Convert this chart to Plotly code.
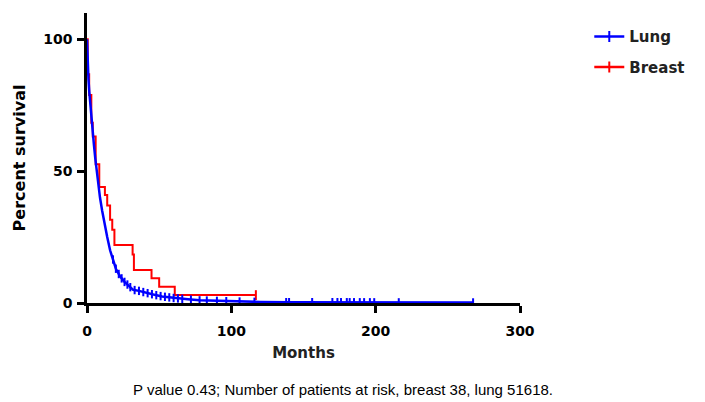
import numpy as np
import plotly.graph_objects as go

# Lung (blue) Kaplan-Meier curve
lung_t = [0, 0.5, 1, 1.6, 2.3, 3.2, 4, 4.8, 5.7, 6.7, 7.8, 9, 10.5, 12, 14, 16, 18, 20, 23, 26, 29, 32,
          36, 40, 46, 52, 60, 70, 78, 90, 101, 120, 140, 170, 200, 240, 268]
lung_s = [100, 90, 85, 80, 75, 70, 65, 60, 55, 50, 45, 40, 35, 30, 25, 20, 16.5, 13, 10, 8, 6.5, 5,
          4.6, 4.0, 3.2, 2.5, 1.9, 1.4, 1.0, 0.8, 0.6, 0.4, 0.3, 0.3, 0.25, 0.2, 0.2]
lung_censor = [18, 20, 22, 24, 26, 28, 30, 33, 36, 39, 42, 45, 48, 51, 54, 57, 60, 63, 66, 72, 78,
               83, 90, 96.5, 105.7, 116, 138, 140, 156, 170, 173.5, 176, 180, 182, 185, 189, 192,
               196, 199, 216, 267.5]

# Breast (red) Kaplan-Meier curve
breast_t = [0, 0.5, 1.5, 3, 4, 6, 8.5, 12.4, 14, 16, 17.5, 19, 31.6, 32.5, 44.7, 50, 60.8, 117]
breast_s = [100, 86.8, 78.9, 68.4, 63.2, 52.6, 44.0, 41.0, 37.0, 31.6, 27.8, 22.0, 18.4, 12.5,
            9.4, 6.2, 3.0, 3.0]
breast_censor = [117]

x_ticks = [0, 100, 200, 300]
y_ticks = [0, 50, 100]

BLUE = "#0000FF"
RED = "#FF0000"
TICKFONT = dict(family="DejaVu Sans", size=14, color="black", weight="bold")


def curve_value(ts, ss, t):
    return float(np.interp(t, ts, ss))


def step_value(ts, ss, t):
    i = np.searchsorted(np.asarray(ts), t, side="right") - 1
    return ss[max(i, 0)]


fig = go.Figure()

# Breast curve (drawn first, under lung)
fig.add_trace(go.Scatter(x=breast_t, y=breast_s, mode="lines", line=dict(color=RED, width=2, shape="hv"),
                         showlegend=False, hoverinfo="skip"))
fig.add_trace(go.Scatter(x=breast_censor, y=[step_value(breast_t, breast_s, t) for t in breast_censor],
                         mode="markers", marker=dict(symbol="line-ns", size=7, line=dict(color=RED, width=2)),
                         showlegend=False, hoverinfo="skip"))
# Lung curve
fig.add_trace(go.Scatter(x=lung_t, y=lung_s, mode="lines", line=dict(color=BLUE, width=2.5, shape="linear"),
                         showlegend=False, hoverinfo="skip"))
fig.add_trace(go.Scatter(x=lung_censor, y=[curve_value(lung_t, lung_s, t) for t in lung_censor],
                         mode="markers", marker=dict(symbol="line-ns", size=6, line=dict(color=BLUE, width=2)),
                         showlegend=False, hoverinfo="skip"))

# Legend entries
fig.add_trace(go.Scatter(x=[None], y=[None], mode="lines+markers", name="Lung", legendgroup="g_lung",
                         line=dict(color=BLUE, width=2.5),
                         marker=dict(symbol="line-ns", size=8, line=dict(color=BLUE, width=2))))
fig.add_trace(go.Scatter(x=[None], y=[None], mode="lines+markers", name="Breast", legendgroup="g_breast",
                         line=dict(color=RED, width=2.5),
                         marker=dict(symbol="line-ns", size=8, line=dict(color=RED, width=2))))

fig.update_layout(
    width=705, height=402,
    margin=dict(l=87, r=185, t=13, b=99),
    paper_bgcolor="white", plot_bgcolor="white",
    showlegend=True,
    legend=dict(x=1.16, y=0.975, xanchor="left", yanchor="top", traceorder="grouped",
                font=dict(family="DejaVu Sans", size=15, color="#222222", weight="bold"),
                tracegroupgap=8, bgcolor="rgba(0,0,0,0)"),
    xaxis=dict(range=[0, 300], tickvals=x_ticks, ticktext=[str(v) for v in x_ticks],
               showline=True, linecolor="black", linewidth=2.5, ticks="outside", ticklen=7,
               tickwidth=2.5, tickcolor="black", showgrid=False, zeroline=False,
               tickfont=TICKFONT, ticklabelstandoff=6,
               title=dict(text="Months", font=dict(family="DejaVu Sans", size=15, color="#222222", weight="bold"),
                          standoff=10)),
    yaxis=dict(range=[0, 110], tickvals=y_ticks, ticktext=[str(v) for v in y_ticks],
               showline=True, linecolor="black", linewidth=2.5, ticks="outside", ticklen=7,
               tickwidth=2.5, tickcolor="black", showgrid=False, zeroline=False,
               tickfont=TICKFONT, ticklabelstandoff=2,
               title=dict(text="Percent survival",
                          font=dict(family="DejaVu Sans", size=16, color="black", weight="bold"),
                          standoff=14)),
    annotations=[dict(text="P value 0.43; Number of patients at risk, breast 38, lung 51618.",
                      xref="paper", yref="paper", x=(343 - 87) / 433, y=(303 - 389) / 290,
                      xanchor="center", yanchor="middle", showarrow=False,
                      font=dict(family="Liberation Sans", size=15, color="black"))],
)

fig.write_html("out.html", config={"displayModeBar": False},
               post_script="document.body.style.margin='0';document.body.style.overflow='hidden';")
